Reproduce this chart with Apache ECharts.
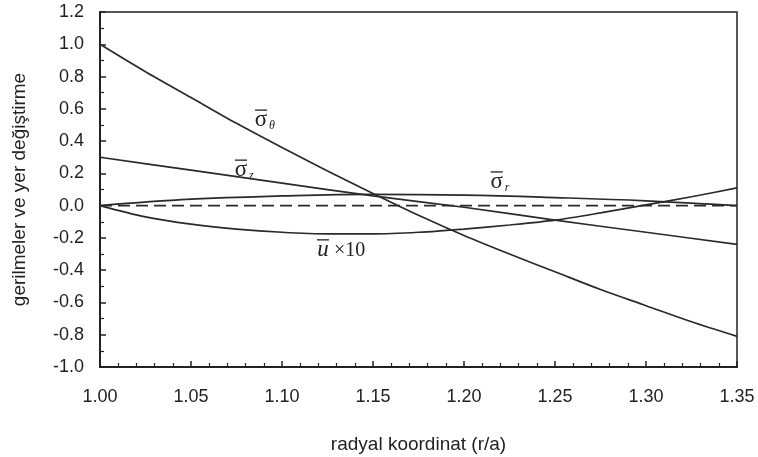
<!DOCTYPE html>
<html><head><meta charset="utf-8">
<script src="https://cdn.jsdelivr.net/npm/echarts@6/dist/echarts.min.js"></script>
<style>html,body{margin:0;padding:0;background:#fff}#c{width:758px;height:457px}</style>
</head><body><div id="c"></div>
<script>
const xFine = [1.00,1.025,1.05,1.075,1.10,1.125,1.15,1.175,1.20,1.225,1.25,1.275,1.30,1.325,1.35];
const sigmaTheta = [1.00,0.83,0.67,0.51,0.36,0.215,0.075,-0.06,-0.185,-0.30,-0.41,-0.52,-0.62,-0.72,-0.81];
const uTimes10 = [0,-0.07,-0.115,-0.145,-0.165,-0.175,-0.175,-0.165,-0.145,-0.12,-0.09,-0.045,0.005,0.055,0.11];
const xCoarse = [1.00,1.05,1.10,1.15,1.20,1.25,1.30,1.35];
const sigmaZ = [0.30,0.22,0.14,0.06,-0.01,-0.09,-0.165,-0.24];
const sigmaR = [0,0.04,0.06,0.07,0.065,0.05,0.03,0.0];
const zeroLine = [0,0];
const zeroX = [1.00,1.35];

// curve annotations: [x, y, main glyph, subscript / suffix, kind]
const annotations = [
  [1.0885, 0.53, 'σ', 'θ', 'sub'],
  [1.0775, 0.22, 'σ', 'z', 'sub'],
  [1.218, 0.147, 'σ', 'r', 'sub'],
  [1.1225, -0.274, 'u', '×10', 'suffix']
];

const pairs = (xs, ys) => xs.map((x,i)=>[x, ys[i]]);
const lineStyle = {color:'#2a2a2a', width:1.7};
const serif = 'Liberation Serif';
const ink = '#222';

const chart = echarts.init(document.getElementById('c'));
chart.setOption({
  animation:false,
  grid:{left:100, top:12, right:21, bottom:90, show:true, borderColor:'#222', borderWidth:1.5, outerBoundsMode:'none', containLabel:false},
  xAxis:{type:'value', min:1.0, max:1.35, interval:0.05,
    name:'radyal koordinat (r/a)', nameLocation:'middle', nameGap:68,
    nameTextStyle:{fontFamily:'Liberation Sans', fontSize:19, color:ink},
    axisLine:{onZero:false, lineStyle:{color:ink, width:2}},
    axisTick:{inside:true, length:6, lineStyle:{color:ink, width:1.5}},
    minorTick:{show:true, splitNumber:5, length:4, lineStyle:{color:ink, width:1.2}},
    splitLine:{show:false},
    axisLabel:{fontFamily:'Liberation Sans', fontSize:18, color:ink, margin:21,
      formatter:v=>v.toFixed(2)}
  },
  yAxis:{type:'value', min:-1.0, max:1.2, interval:0.2,
    name:'gerilmeler ve yer değiştirme', nameLocation:'middle', nameGap:71,
    nameTextStyle:{fontFamily:'Liberation Sans', fontSize:19, color:ink},
    axisLine:{onZero:false, lineStyle:{color:ink, width:2}},
    axisTick:{inside:true, length:6, lineStyle:{color:ink, width:1.5}},
    minorTick:{show:true, splitNumber:2, length:4, lineStyle:{color:ink, width:1.2}},
    splitLine:{show:false},
    axisLabel:{fontFamily:'Liberation Sans', fontSize:18, color:ink, margin:16,
      formatter:v=>v.toFixed(1)}
  },
  series:[
    {type:'line', data:pairs(xFine, sigmaTheta), smooth:0.3, showSymbol:false, lineStyle:lineStyle},
    {type:'line', data:pairs(xCoarse, sigmaZ), smooth:0.3, showSymbol:false, lineStyle:lineStyle},
    {type:'line', data:pairs(xCoarse, sigmaR), smooth:0.4, showSymbol:false, lineStyle:lineStyle},
    {type:'line', data:pairs(xFine, uTimes10), smooth:0.3, showSymbol:false, lineStyle:lineStyle},
    {type:'line', data:pairs(zeroX, zeroLine), showSymbol:false,
      lineStyle:{color:'#2a2a2a', width:1.8, type:[12,6]}}
  ]
});

const graphics = annotations.map(([x, y, main, extra, kind]) => {
  const p = chart.convertToPixel({gridIndex:0}, [x, y]);
  const children = [
    {type:'text', x:0, y:0, style:{text:main, fontFamily:serif, fontSize:23,
      fontStyle: kind==='suffix' ? 'italic' : 'normal',
      fill:ink, align:'center', verticalAlign:'middle'}},
    {type:'line', shape:{x1:-6, y1:-10, x2:6, y2:-10}, style:{stroke:ink, lineWidth:1.3}}
  ];
  if (kind === 'sub') {
    children.push({type:'text', x:8, y:6, style:{text:extra, fontFamily:serif, fontSize:12,
      fontStyle:'italic', fill:ink, align:'left', verticalAlign:'middle'}});
  } else {
    children.push({type:'text', x:11, y:1, style:{text:extra, fontFamily:serif, fontSize:20,
      fill:ink, align:'left', verticalAlign:'middle'}});
  }
  return {type:'group', x:p[0], y:p[1], children:children, z:10};
});
chart.setOption({graphic:graphics});
</script></body></html>
